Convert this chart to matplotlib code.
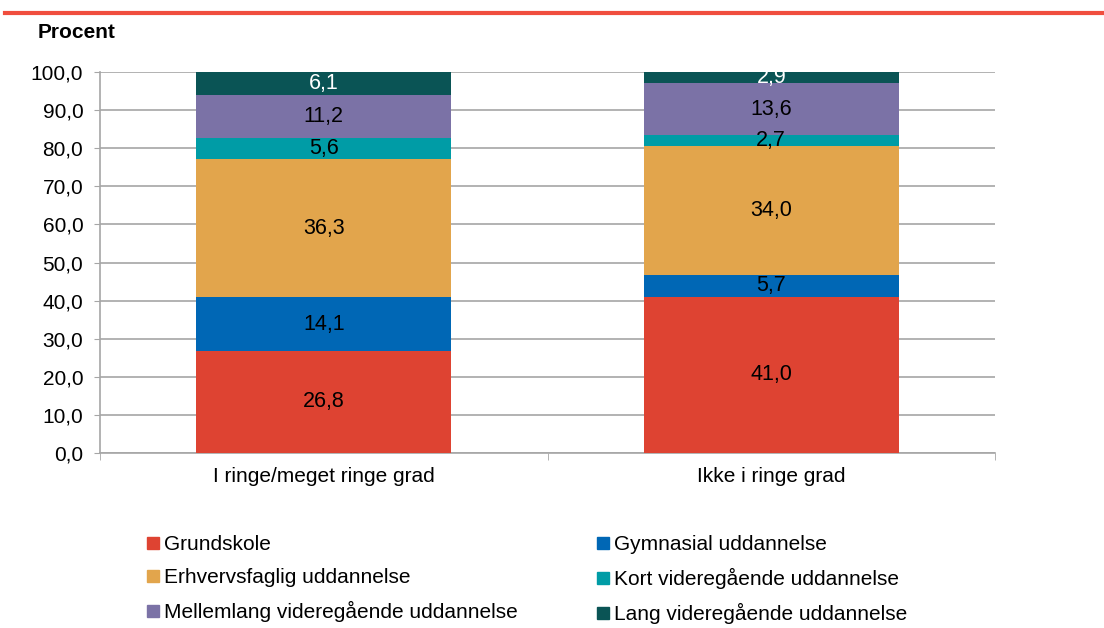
import matplotlib.pyplot as plt
import numpy as np
from matplotlib.lines import Line2D
from matplotlib.patches import Patch

plt.rcParams["font.family"] = ["Liberation Sans", "DejaVu Sans"]

categories = ["I ringe/meget ringe grad", "Ikke i ringe grad"]
series_names = [
    "Grundskole",
    "Gymnasial uddannelse",
    "Erhvervsfaglig uddannelse",
    "Kort videregående uddannelse",
    "Mellemlang videregående uddannelse",
    "Lang videregående uddannelse",
]
grundskole = [26.8, 41.0]
gymnasial = [14.1, 5.7]
erhvervsfaglig = [36.3, 34.0]
kort = [5.6, 2.7]
mellemlang = [11.2, 13.6]
lang = [6.1, 2.9]
colors = ["#DE4332", "#0067B5", "#E2A54C", "#009CA6", "#7B72A6", "#0A5455"]
label_colors = ["black", "black", "black", "black", "black", "white"]

fig = plt.figure(figsize=(11.04, 6.28), dpi=100)
ax = fig.add_axes([0.0906, 0.2787, 0.8107, 0.6066])

x = np.arange(len(categories))
bottom = np.zeros(len(categories))
series = [grundskole, gymnasial, erhvervsfaglig, kort, mellemlang, lang]
for vals, name, col, lc in zip(series, series_names, colors, label_colors):
    vals = np.array(vals)
    ax.bar(x, vals, 0.57, bottom=bottom, color=col, label=name, zorder=3)
    for xi, v, b in zip(x, vals, bottom):
        ax.text(xi, b + v / 2, f"{v:.1f}".replace(".", ","), ha="center",
                va="center", fontsize=15.5, color=lc, zorder=4)
    bottom += vals

ax.set_xlim(-0.5, 1.5)
ax.set_ylim(0, 100)
ax.set_yticks(np.arange(0, 101, 10))
ax.set_yticklabels([f"{v:.1f}".replace(".", ",") for v in np.arange(0, 101, 10)])
ax.yaxis.grid(True, color="#A6A6A6", linewidth=1.2, zorder=0)
ax.set_xticks(x)
ax.set_xticklabels(categories)
ax.set_xticks([-0.5, 0.5, 1.5], minor=True)
ax.tick_params(axis="x", which="major", length=0, pad=10, labelsize=15)
ax.tick_params(axis="x", which="minor", length=5, color="#A6A6A6", direction="out")
ax.tick_params(axis="y", length=4, color="#A6A6A6", labelsize=15, pad=8)
for side in ["top", "right"]:
    ax.spines[side].set_visible(False)
for side in ["left", "bottom"]:
    ax.spines[side].set_color("#A6A6A6")
    ax.spines[side].set_linewidth(1.2)

fig.text(38 / 1104, 1 - 32 / 628, "Procent", fontsize=15, fontweight="bold",
         va="center", ha="left")
fig.add_artist(Line2D([5 / 1104, 1], [1 - 13 / 628, 1 - 13 / 628],
                      color="#F04E3E", linewidth=3))

handles = [Patch(color=c) for c in colors]
order = [0, 2, 4, 1, 3, 5]
fig.legend([handles[i] for i in order], [series_names[i] for i in order],
           ncol=2, loc="upper left", bbox_to_anchor=(141 / 1104, 1 - 529 / 628),
           frameon=False, fontsize=15, handlelength=0.55, handleheight=0.55,
           handletextpad=0.25, columnspacing=3.83, labelspacing=0.67,
           borderaxespad=0, borderpad=0.3)

fig.savefig("out.png", dpi=100)
